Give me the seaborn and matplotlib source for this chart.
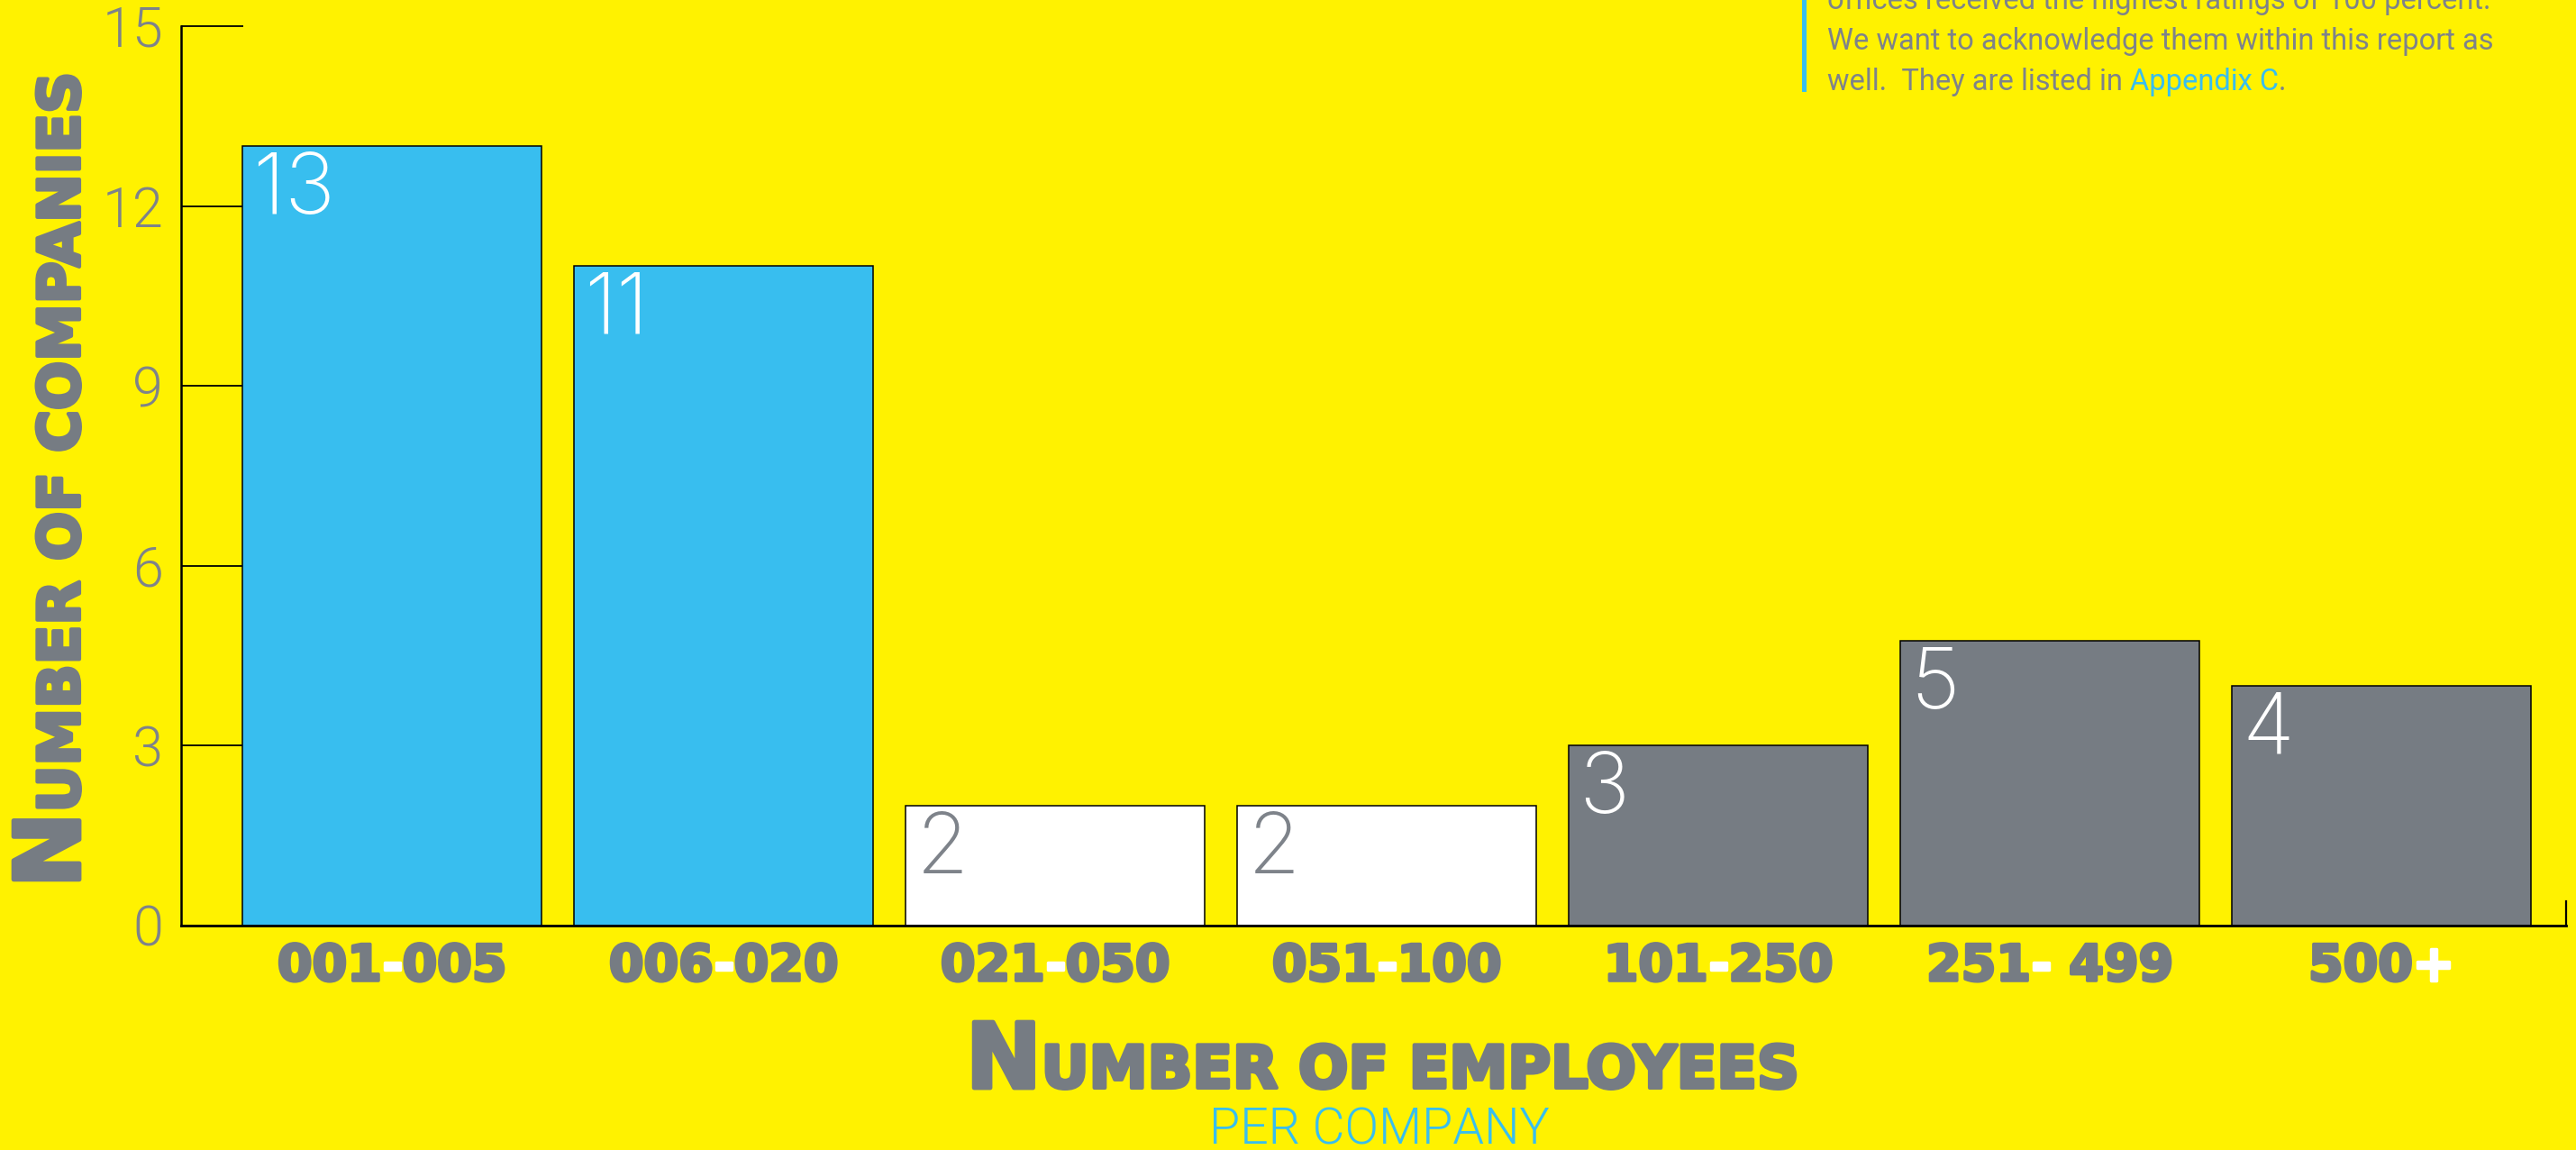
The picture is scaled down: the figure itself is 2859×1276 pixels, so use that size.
import matplotlib
matplotlib.use("Agg")
import matplotlib.pyplot as plt
import seaborn as sns
import pandas as pd
from matplotlib import font_manager as fm
from matplotlib import patheffects as pe
from matplotlib.offsetbox import TextArea, HPacker, AnnotationBbox
from matplotlib.patches import Rectangle

# ---------------- data ----------------
categories = ["001-005", "006-020", "021-050", "051-100", "101-250", "251- 499", "500+"]
label_left = ["001", "006", "021", "051", "101", "251", "500"]
label_sep = ["-", "-", "-", "-", "-", "-", "+"]
label_right = ["005", "020", "050", "100", "250", " 499", ""]
bar_heights = [13, 11, 2, 2, 3, 4.75, 4]
value_labels = ["13", "11", "2", "2", "3", "5", "4"]
groups = ["blue", "blue", "white", "white", "gray", "gray", "gray"]
y_ticks = [0, 3, 6, 9, 12, 15]

para_lines = ["offices received the highest ratings of 100 percent.",
              "We want to acknowledge them within this report as",
              "well.  They are listed in "]
para_link = "Appendix C"

# ---------------- style ----------------
YELLOW = "#FFF200"
BLUE = "#38BEEF"
GRAY = "#767C83"
LIGHTGRAY = "#7E838A"


def find_font(names, weights):
    for w_target in weights:
        for name in names:
            for f in fm.fontManager.ttflist:
                w = f.weight
                if isinstance(w, str):
                    w = fm.weight_dict.get(w, 400)
                if f.name == name and w == w_target and f.style == "normal":
                    return f.fname
    return None


light_path = find_font(["Roboto", "Lato", "Open Sans", "Inter", "Noto Sans", "DejaVu Sans"], [300, 200, 100])
thin_path = find_font(["Roboto", "Lato", "Inter", "Open Sans", "DejaVu Sans"], [200, 100, 300])
reg_path = find_font(["Roboto", "Lato", "Open Sans", "Inter", "Noto Sans"], [400])


def light_fp(size, thin=False):
    p = thin_path if thin else light_path
    if p:
        return fm.FontProperties(fname=p, size=size)
    return fm.FontProperties(family="DejaVu Sans", weight="light", size=size)


def reg_fp(size):
    if reg_path:
        return fm.FontProperties(fname=reg_path, size=size)
    return fm.FontProperties(family="DejaVu Sans", size=size)


def heavy_fp(size):
    return fm.FontProperties(family="DejaVu Sans", weight="bold", size=size)


def thick(color, lw):
    return [pe.withStroke(linewidth=lw, foreground=color)]


W, H = 2859, 1276
fig = plt.figure(figsize=(W / 100, H / 100), dpi=100, facecolor=YELLOW)
ax = fig.add_axes([200.6 / W, (H - 1026.6) / H, (2848 - 200.6) / W, (1026.6 - 29) / H])
ax.set_facecolor(YELLOW)
ax.set_axisbelow(True)

df = pd.DataFrame({"category": categories, "count": bar_heights, "group": groups})
palette = {"blue": BLUE, "white": "white", "gray": GRAY}
sns.barplot(data=df, x="category", y="count", hue="group", palette=palette,
            dodge=False, width=0.9, edgecolor="black", linewidth=1.1, saturation=1,
            legend=False, ax=ax, order=categories)

ax.set_xlim(-0.637, 6.557)
ax.set_ylim(0, 15)
ax.set_xlabel("")
ax.set_ylabel("")

for s in ["top", "right"]:
    ax.spines[s].set_visible(False)
ax.spines["left"].set_linewidth(1.8)
ax.spines["bottom"].set_linewidth(2.0)
ax.spines["left"].set_color("black")
ax.spines["bottom"].set_color("black")

ax.set_yticks(y_ticks)
ax.set_yticklabels([str(v) for v in y_ticks])
ax.tick_params(axis="y", direction="in", length=50, width=1.3, color="black",
               labelcolor=LIGHTGRAY, pad=14)
for lbl in ax.get_yticklabels():
    lbl.set_fontproperties(light_fp(44))
ax.tick_params(axis="x", length=0, labelbottom=False)

# small end tick at right of baseline
ax.plot([1, 1], [0, 0.027], transform=ax.transAxes, color="black", lw=1.6, clip_on=False)

# value labels inside top-left of each bar
for p in ax.patches:
    i = int(round(p.get_x() + p.get_width() / 2))
    if i < 0 or i >= len(categories) or p.get_height() == 0:
        continue
    col = LIGHTGRAY if groups[i] == "white" else "white"
    ax.annotate(value_labels[i], xy=(p.get_x(), p.get_height()), xytext=(8, -5),
                textcoords="offset points", ha="left", va="top",
                fontproperties=light_fp(68, thin=True), color=col)

# category labels (gray digits, white separator)
for i in range(len(categories)):
    parts = [TextArea(label_left[i], textprops=dict(fontproperties=heavy_fp(40), color=GRAY,
                                                    path_effects=thick(GRAY, 2.5))),
             TextArea(label_sep[i], textprops=dict(fontproperties=heavy_fp(40), color="white",
                                                   path_effects=thick("white", 2.5)))]
    if label_right[i]:
        parts.append(TextArea(label_right[i], textprops=dict(fontproperties=heavy_fp(40), color=GRAY,
                                                             path_effects=thick(GRAY, 2.5))))
    box = HPacker(children=parts, align="baseline", pad=0, sep=0)
    ab = AnnotationBbox(box, (i, 0), xycoords=ax.get_xaxis_transform(), xybox=(0, -14),
                        boxcoords="offset points", box_alignment=(0.5, 1.0),
                        frameon=False, pad=0, annotation_clip=False)
    ax.add_artist(ab)

# x axis title (small caps imitation)
tN = fig.text(1072, 69, "N", transform=None, fontproperties=heavy_fp(72), color=GRAY,
              ha="left", va="baseline", path_effects=thick(GRAY, 3.5))
ax.annotate("UMBER OF EMPLOYEES", xy=(1, 69), xycoords=(tN, "figure pixels"),
            ha="left", va="baseline", fontproperties=heavy_fp(47),
            color=GRAY, annotation_clip=False, path_effects=thick(GRAY, 3))
fig.text(1531, 6, "PER COMPANY", transform=None, fontproperties=light_fp(40),
         color=BLUE, ha="center", va="baseline")

# y axis title (rotated small caps imitation)
tYN = fig.text(88, 291, "N", transform=None, fontproperties=heavy_fp(72), color=GRAY,
               rotation=90, rotation_mode="anchor", ha="left", va="baseline",
               path_effects=thick(GRAY, 3.5))
ax.annotate("UMBER OF COMPANIES", xy=(88, 1), xycoords=("figure pixels", tYN),
            rotation=90, rotation_mode="anchor", ha="left", va="baseline",
            fontproperties=heavy_fp(46), color=GRAY, annotation_clip=False,
            path_effects=thick(GRAY, 3))

# top-right paragraph fragment
fig.add_artist(Rectangle((2000 / W, 1174 / H), 5 / W, 102 / H, transform=fig.transFigure,
                         facecolor=BLUE, edgecolor="none"))
base_y = [1266, 1221, 1176]
for txt, yb in zip(para_lines[:2], base_y[:2]):
    fig.text(2028, yb, txt, transform=None, fontproperties=reg_fp(23.5),
             color=LIGHTGRAY, ha="left", va="baseline")
t3 = fig.text(2028, base_y[2], para_lines[2], transform=None, fontproperties=reg_fp(23.5),
              color=LIGHTGRAY, ha="left", va="baseline")
t4 = ax.annotate(para_link, xy=(1, base_y[2]), xycoords=(t3, "figure pixels"),
                 ha="left", va="baseline", fontproperties=reg_fp(23.5), color=BLUE,
                 annotation_clip=False)
ax.annotate(".", xy=(1, base_y[2]), xycoords=(t4, "figure pixels"),
            ha="left", va="baseline", fontproperties=reg_fp(23.5), color=LIGHTGRAY,
            annotation_clip=False)

fig.savefig("out.png", dpi=100, facecolor=YELLOW)
